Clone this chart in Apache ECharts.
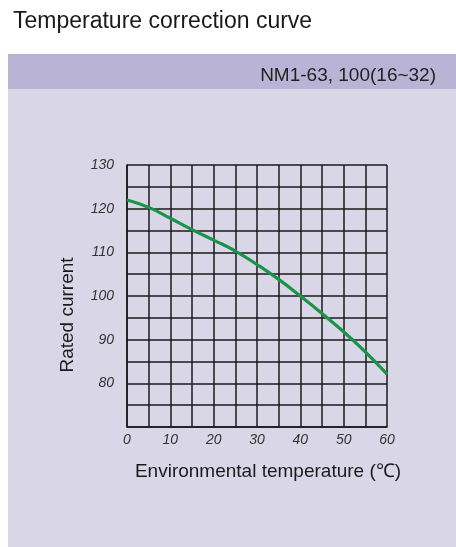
<!DOCTYPE html>
<html>
<head>
<meta charset="utf-8">
<script src="https://cdn.jsdelivr.net/npm/echarts@6/dist/echarts.min.js"></script>
<style>html,body{margin:0;padding:0;background:#fff;}#c{width:456px;height:547px;}</style>
</head>
<body>
<div id="c"></div>
<script>
const temperatures = [0, 5, 10, 15, 20, 25, 30, 35, 40, 45, 50, 55, 60];
const ratedCurrent = [122.0, 120.3, 117.8, 115.2, 112.8, 110.3, 107.2, 103.8, 100.0, 96.0, 91.8, 87.2, 82.1];
const xTickLabels = [0, 10, 20, 30, 40, 50, 60];
const yTickLabels = [80, 90, 100, 110, 120, 130];

const chart = echarts.init(document.getElementById('c'), null, {renderer: 'canvas'});
const font = 'Liberation Sans, Arial, Helvetica, sans-serif';
chart.setOption({
  animation: false,
  backgroundColor: '#ffffff',
  textStyle: {fontFamily: font},
  title: [{
    text: 'Temperature correction curve',
    left: 8, top: 5,
    textStyle: {fontSize: 23, fontWeight: 'normal', color: '#1a1a1a', fontFamily: font}
  }, {
    text: 'NM1-63, 100(16~32)',
    right: 15, top: 61,
    textStyle: {fontSize: 19, fontWeight: 'normal', color: '#222', fontFamily: font}
  }],
  graphic: [
    {type: 'rect', z: -10, silent: true, shape: {x: 8, y: 54, width: 448, height: 35}, style: {fill: '#b9b4d6'}},
    {type: 'rect', z: -10, silent: true, shape: {x: 8, y: 89, width: 448, height: 458}, style: {fill: '#d9d6e7'}}
  ],
  grid: {left: 127, right: 69, top: 165, bottom: 120, containLabel: false},
  xAxis: {
    type: 'value', min: 0, max: 60, interval: 5,
    name: 'Environmental temperature (℃)',
    nameLocation: 'middle', nameGap: 35,
    nameTextStyle: {fontSize: 19, color: '#1a1a1a', fontFamily: font, padding: [0, 0, 0, 22]},
    axisLine: {show: true, lineStyle: {color: '#1a1a1a', width: 1.5}},
    axisTick: {show: false},
    splitLine: {show: true, lineStyle: {color: '#1a1a1a', width: 1.5}},
    axisLabel: {
      fontSize: 14, fontStyle: 'italic', color: '#333', margin: 6,
      formatter: v => xTickLabels.includes(v) ? String(v) : ''
    }
  },
  yAxis: {
    type: 'value', min: 70, max: 130, interval: 5,
    name: 'Rated current',
    nameLocation: 'middle', nameGap: 50,
    nameTextStyle: {fontSize: 19, color: '#1a1a1a', fontFamily: font, padding: [0, 38, 0, 0]},
    axisLine: {show: true, lineStyle: {color: '#1a1a1a', width: 1.5}},
    axisTick: {show: false},
    splitLine: {show: true, lineStyle: {color: '#1a1a1a', width: 1.5}},
    axisLabel: {
      fontSize: 14, fontStyle: 'italic', color: '#333', margin: 13,
      padding: [4, 0, 0, 0],
      formatter: v => yTickLabels.includes(v) ? String(v) : ''
    }
  },
  series: [{
    type: 'line',
    data: temperatures.map((t, i) => [t, ratedCurrent[i]]),
    smooth: true,
    showSymbol: false,
    lineStyle: {color: '#1a9448', width: 3.2},
    z: 5
  }]
});
</script>
</body>
</html>
